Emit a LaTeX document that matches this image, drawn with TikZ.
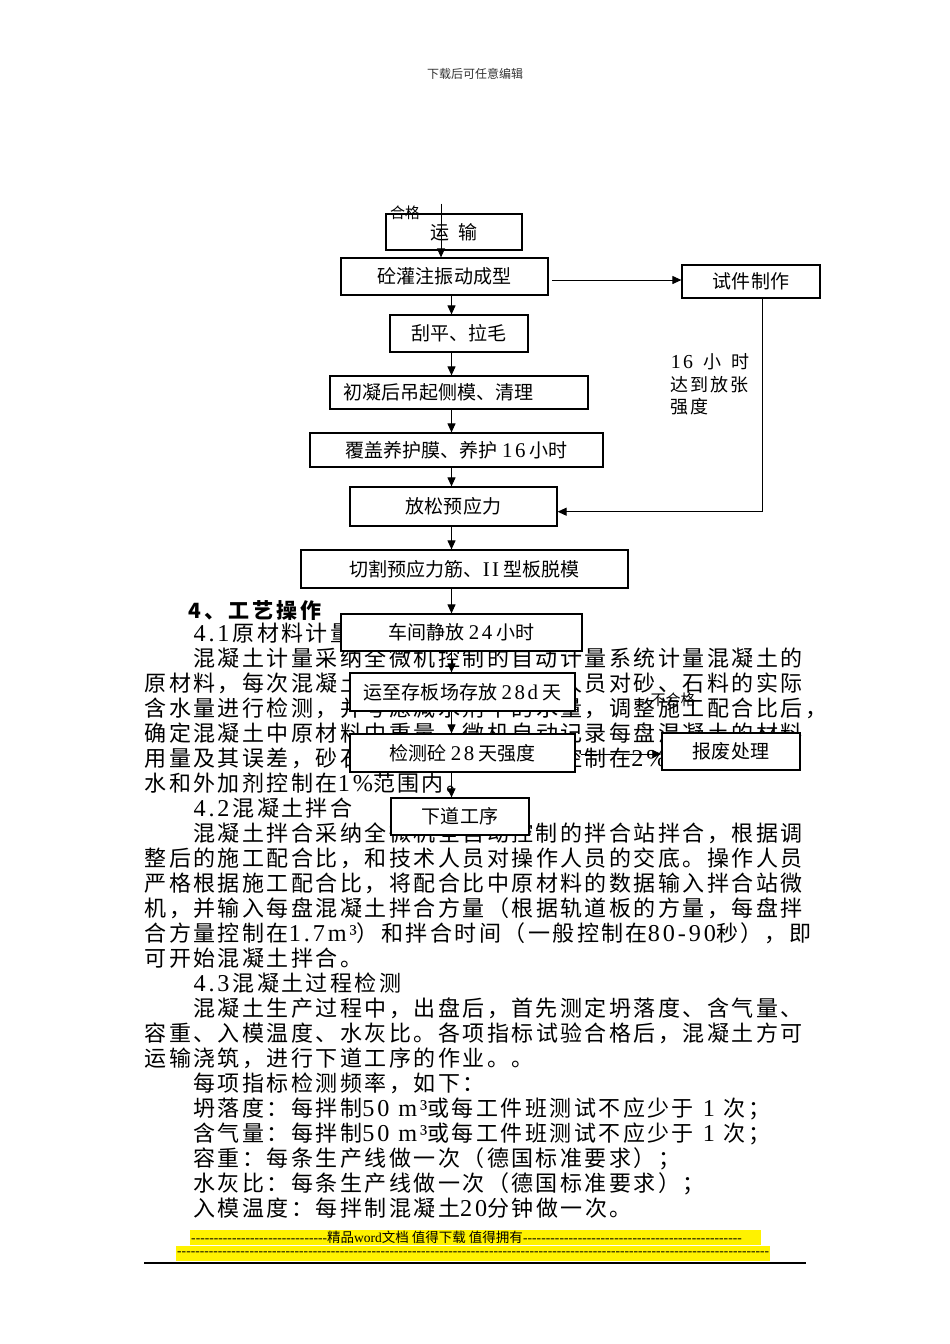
\documentclass[tikz,border=0pt]{standalone}
\usepackage{fontspec}
\setmainfont{Liberation Serif}
\newfontfamily\cjk{Noto Sans CJK SC}
\newfontfamily\cjkbody{Noto Sans CJK SC}[LetterSpace=11.2]
\newfontfamily\cjkhead{Noto Sans CJK SC}[LetterSpace=14]
\newfontfamily\cjkbox{Noto Sans CJK SC}[LetterSpace=0.5]
\newfontfamily\cjklab{Noto Sans CJK SC}[LetterSpace=10]
\newfontfamily\latfam{Liberation Serif}[LetterSpace=12,Scale=1.1]
\newcommand\latx[1]{{\latfam #1}}
\usetikzlibrary{arrows.meta}
\begin{document}
\begin{tikzpicture}[x=1pt,y=-1pt,
  box/.style={draw, line width=1.2pt, fill=white, inner sep=0pt, font=\fontsize{19}{21}\selectfont\cjkbox},
  arr/.style={line width=1pt, -{Triangle[length=9pt,width=8pt]}},
  lab/.style={inner sep=0pt, font=\fontsize{15}{17}\selectfont\cjk},
  lab2/.style={inner sep=0pt, anchor=west, font=\fontsize{18}{20}\selectfont\cjklab},
  foot/.style={inner sep=0pt, anchor=west, font=\fontsize{13.5}{15}\selectfont}
]
\path[use as bounding box, fill=white] (0,0) rectangle (950,1344);

% header
\node[inner sep=0pt, font=\fontsize{12}{14}\selectfont\cjk, text=black!80] (hdr) at (475,74) {下载后可任意编辑};

% body text
\node[anchor=base west, inner sep=0pt] (body) at (144.4,641.5) {\parbox[t]{720pt}{%
\fontsize{22}{25}\selectfont\cjkbody\raggedright\setlength{\parindent}{0pt}%
\hspace*{48.9pt}\latx{4.1}\hspace{3pt}原材料计量\par
\hspace*{48.9pt}混凝土计量采纳全微机控制的自动计量系统计量混凝土的\par
原材料，每次混凝土拌合前，由试验室人员对砂、石料的实际\par
含水量进行检测，并考虑减水剂中的水量，调整施工配合比后，\par
确定混凝土中原材料中重量，微机自动记录每盘混凝土的材料\par
用量及其误差，砂石料的允许称量误差控制在\latx{2\%}，水泥、\par
水和外加剂控制在\latx{1\%}范围内。\par
\hspace*{48.9pt}\latx{4.2}\hspace{3pt}混凝土拌合\par
\hspace*{48.9pt}混凝土拌合采纳全微机全自动控制的拌合站拌合，根据调\par
整后的施工配合比，和技术人员对操作人员的交底。操作人员\par
严格根据施工配合比，将配合比中原材料的数据输入拌合站微\par
机，并输入每盘混凝土拌合方量（根据轨道板的方量，每盘拌\par
合方量控制在\latx{1.7m³}）和拌合时间（一般控制在\latx{80-90}秒），即\par
可开始混凝土拌合。\par
\hspace*{48.9pt}\latx{4.3}\hspace{3pt}混凝土过程检测\par
\hspace*{48.9pt}混凝土生产过程中，出盘后，首先测定坍落度、含气量、\par
容重、入模温度、水灰比。各项指标试验合格后，混凝土方可\par
运输浇筑，进行下道工序的作业。。\par
\hspace*{48.9pt}每项指标检测频率，如下：\par
\hspace*{48.9pt}坍落度：每拌制\latx{50 m³}或每工件班测试不应少于\latx{~1~}次；\par
\hspace*{48.9pt}含气量：每拌制\latx{50 m³}或每工件班测试不应少于\latx{~1~}次；\par
\hspace*{48.9pt}容重：每条生产线做一次（德国标准要求）；\par
\hspace*{48.9pt}水灰比：每条生产线做一次（德国标准要求）；\par
\hspace*{48.9pt}入模温度：每拌制混凝土\latx{20}分钟做一次。\par}};

\node[anchor=west, inner sep=0pt, font=\fontsize{21}{23}\selectfont\cjkhead\bfseries] (head) at (188.5,611) {4、工艺操作};

% flowchart boxes
\node[box, minimum width=136pt, minimum height=36pt] (yunshu) at (454,232) {运\hspace{10pt}输};
\node[box, minimum width=207pt, minimum height=37pt] (guanzhu) at (444.5,276.5) {砼灌注振动成型};
\node[box, minimum width=138pt, minimum height=33pt] (shijian) at (751,281.5) {试件制作};
\node[box, minimum width=138pt, minimum height=37pt] (guaping) at (459,333.5) {刮平、拉毛};
\node[box, minimum width=258pt, minimum height=33pt] (chuning) at (459,392.5) {初凝后吊起侧模、清理\hspace*{41pt}};
\node[box, minimum width=293pt, minimum height=34pt] (fugai) at (456.5,450) {覆盖养护膜、养护~\latx{16}~小时};
\node[box, minimum width=207pt, minimum height=39pt] (fangsong) at (453.5,506.5) {放松预应力};
\node[box, minimum width=327pt, minimum height=38pt] (qiege) at (464.5,569) {切割预应力筋、\latx{II}~型板脱模};
\node[box, minimum width=241pt, minimum height=37pt] (chejian) at (461.5,632.5) {车间静放~\latx{24}~小时};
\node[box, minimum width=225pt, minimum height=38pt] (yunzhi) at (462.5,692) {运至存板场存放~\latx{28d}~天};
\node[box, minimum width=225pt, minimum height=38pt] (jiance) at (462.5,753) {检测砼~\latx{28}~天强度};
\node[box, minimum width=138pt, minimum height=37pt] (baofei) at (731,751.5) {报废处理};
\node[box, minimum width=138pt, minimum height=37pt] (xiadao) at (460,816.5) {下道工序};

% connectors
\coordinate (top) at (441,203.5);
\coordinate (cx) at (451.5,0);
\coordinate (a1) at (552,280);
\coordinate (r1) at (762,511.7);
\coordinate (b1) at (580.5,754);
\draw[arr] (top) -- (top |- guanzhu.north);
\draw[arr] (a1) -- (a1 -| shijian.west);
\draw[arr] (guanzhu.south -| cx) -- (guaping.north -| cx);
\draw[arr] (guaping.south -| cx) -- (chuning.north -| cx);
\draw[arr] (chuning.south -| cx) -- (fugai.north -| cx);
\draw[arr] (fugai.south -| cx) -- (fangsong.north -| cx);
\draw[arr] (fangsong.south -| cx) -- (qiege.north -| cx);
\draw[arr] (qiege.south -| cx) -- (chejian.north -| cx);
\draw[arr] (chejian.south -| cx) -- (yunzhi.north -| cx);
\draw[arr] (yunzhi.south -| cx) -- (jiance.north -| cx);
\draw[arr] (jiance.south -| cx) -- (xiadao.north -| cx);
\draw[arr] (r1 |- shijian.south) -- (r1) -- (r1 -| fangsong.east);
\draw[arr] (b1) -- (b1 -| baofei.west);

% labels
\node[lab] (hege) at (405,213) {合格};
\node[lab] (buhege) at (673,700) {不合格};
\node[lab2] (l16) at (670.7,361.7) {\hbox to 79pt{\latx{16}\hfill 小\hfill 时}};
\node[lab2] (l17) at (670.7,385) {达到放张};
\node[lab2] (l18) at (670.7,407) {强度};

% footer
\fill[yellow] (190,1230) rectangle (761,1245);
\fill[yellow] (176,1246) rectangle (770,1261);
\draw[line width=1.5pt] (144,1263) -- (806,1263);
\node[foot] (f1) at (191,1237.5) {\hbox to 136pt{\xleaders\hbox{-}\hfill}{\cjk 精品}word{\cjk 文档 值得下载 值得拥有}\hbox to 219pt{\xleaders\hbox{-}\hfill}};
\node[foot] (f2) at (177,1253.5) {\hbox to 592pt{\xleaders\hbox{-}\hfill}};
\end{tikzpicture}
\end{document}
